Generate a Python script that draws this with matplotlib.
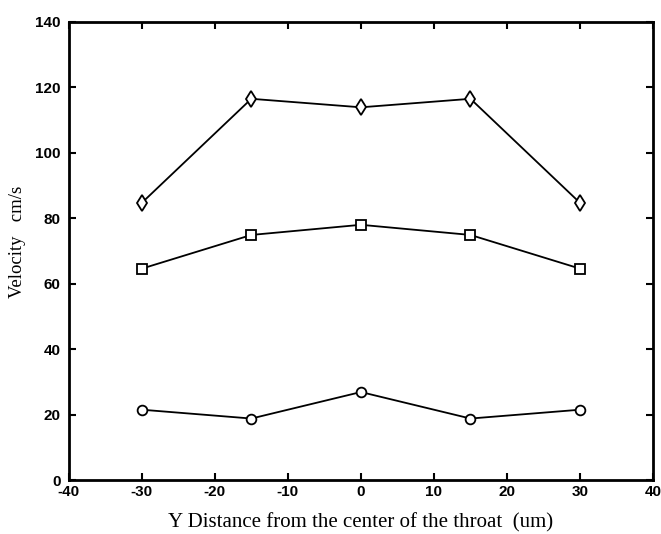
import numpy as np
import matplotlib
matplotlib.use("Agg")
import matplotlib.pyplot as plt

plt.rcParams["axes.unicode_minus"] = False

# data
y_dist = [-30, -15, 0, 15, 30]
v_top = [84.7, 116.5, 113.9, 116.5, 84.7]
v_mid = [64.6, 74.9, 78.0, 74.9, 64.6]
v_low = [21.5, 18.8, 26.9, 18.8, 21.5]

x_ticks = [-40, -30, -20, -10, 0, 10, 20, 30, 40]
y_ticks = [0, 20, 40, 60, 80, 100, 120, 140]

fig = plt.figure(figsize=(6.61, 5.34), dpi=100)
ax = fig.add_axes([0.104, 0.101, 0.884, 0.858])

ax.plot(y_dist, v_top, color="black", lw=1.3, marker="d", ms=8, mfc="white", mec="black", mew=1.3)
ax.plot(y_dist, v_mid, color="black", lw=1.3, marker="s", ms=7.5, mfc="white", mec="black", mew=1.3)
ax.plot(y_dist, v_low, color="black", lw=1.3, marker="o", ms=7, mfc="white", mec="black", mew=1.3)

ax.set_xlim(-40, 40)
ax.set_ylim(0, 140)
ax.set_xticks(x_ticks)
ax.set_yticks(y_ticks)
ax.tick_params(direction="in", top=True, right=True, length=5, width=1.5)
ax.tick_params(axis="y", pad=6)
for lab in ax.get_xticklabels() + ax.get_yticklabels():
    lab.set_family("Liberation Sans")
    lab.set_fontweight("bold")
    lab.set_fontsize(11)
for s in ax.spines.values():
    s.set_linewidth(2)

ax.set_xlabel("Y Distance from the center of the throat  (um)", family="Liberation Serif", fontsize=15, labelpad=10)
ax.set_ylabel("Velocity   cm/s", family="Liberation Serif", fontsize=13.5)
ax.yaxis.set_label_coords(-0.074, 0.52)

fig.savefig("out.png", dpi=100)
